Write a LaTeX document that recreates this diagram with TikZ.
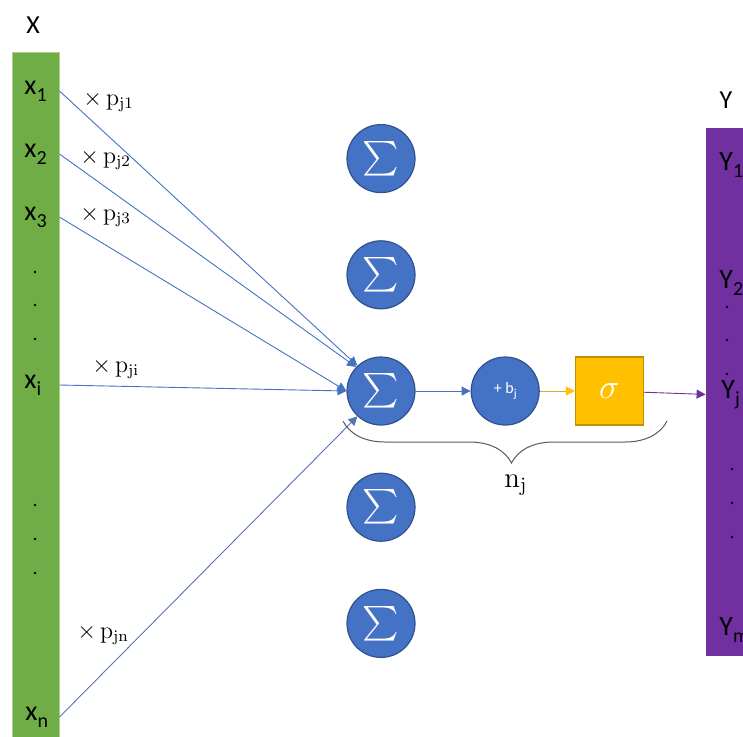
\documentclass[tikz,border=0pt]{standalone}
\usepackage{amsmath}
\usepackage[no-math]{fontspec}
\setmainfont{Carlito}
\definecolor{nngreen}{HTML}{70AD47}
\definecolor{nngreenedge}{HTML}{A9D18E}
\definecolor{nnblue}{HTML}{4472C4}
\definecolor{nnedge}{HTML}{2F528F}
\definecolor{nngold}{HTML}{FFC000}
\definecolor{nngoldedge}{HTML}{BF9000}
\definecolor{nnpurple}{HTML}{7030A0}
\usetikzlibrary{arrows.meta,positioning,decorations.pathreplacing}
\newcommand{\dn}[1]{\raisebox{-0.55ex}{\fontsize{10}{10}\selectfont #1}}

\begin{document}
\begin{tikzpicture}[x=0.5pt,y=-0.5pt,
  hd/.style={font=\fontsize{13}{15}\selectfont,inner sep=0pt},
  lbl/.style={font=\fontsize{14}{16}\selectfont,inner sep=0pt,anchor=base west},
  wt/.style={font=\fontsize{12}{14}\selectfont,inner sep=0pt,anchor=base west},
  dot/.style={circle,fill=black,inner sep=0pt,minimum size=1.4pt},
  sum/.style={circle,draw=nnedge,fill=nnblue,line width=0.6pt,minimum size=34pt,
    inner sep=0pt,text=white,font=\fontsize{17}{19}\selectfont},
  arr/.style={-{Triangle[length=4.5pt,width=4.5pt]},line width=0.45pt,nnblue}]
  \useasboundingbox (0,0) rectangle (743,736);
  % the two columns
  \node[draw=nngreenedge,fill=nngreen,line width=0.5pt,minimum width=23.5pt,
    minimum height=344pt,inner sep=0pt] (xbar) at (35.5,396) {};
  \node[fill=nnpurple,minimum width=23pt,minimum height=264pt,inner sep=0pt]
    (ybar) at (729,392) {};
  \node[hd,anchor=base] (xhd) at (33,33) {X};
  \node[hd,anchor=base] (yhd) at (726,108) {Y};
  \node[lbl] (x1) at (24,94) {x\dn{1}};
  \node[lbl] (x2) at (24,157) {x\dn{2}};
  \node[lbl] (x3) at (24,220) {x\dn{3}};
  \node[lbl] (xi) at (24,388) {x\dn{i}};
  \node[lbl] (xn) at (25,720) {x\dn{n}};
  \foreach \y [count=\k] in {272,305,339,505,539,573}
    \node[dot] (xd\k) at (35,\y) {};
  \node[lbl] (y1) at (719,170) {Y\dn{1}};
  \node[lbl] (y2) at (719,288) {Y\dn{2}};
  \node[lbl] (yj) at (721,398) {Y\dn{j}};
  \node[lbl] (ym) at (719,635) {Y\dn{m}};
  \foreach \y [count=\k] in {307,340,374}
    \node[dot] (yd\k) at (727,\y) {};
  \foreach \y [count=\k] in {469,503,537}
    \node[dot] (ye\k) at (732,\y) {};
  % neuron j and the others
  \node[sum] (sum3) at (381,391) {$\sum$};
  \node[sum,above=23.5pt of sum3] (sum2) {$\sum$};
  \node[sum,above=23.5pt of sum2] (sum1) {$\sum$};
  \node[sum,below=23.5pt of sum3] (sum4) {$\sum$};
  \node[sum,below=23.5pt of sum4] (sum5) {$\sum$};
  \node[sum,right=27.5pt of sum3,font=\fontsize{8}{9}\selectfont] (bias) {+ b\dn{\fontsize{6}{6}\selectfont j}};
  \node[draw=nngoldedge,fill=nngold,line width=0.6pt,minimum size=34pt,inner sep=0pt,
    text=white,font=\fontsize{18}{20}\selectfont,right=17.5pt of bias] (sig) {$\sigma$};
  % weights
  \node[wt] (w1) at (83,105) {$\times\,\mathrm{p}_{\mathrm{j1}}$};
  \node[wt] (w2) at (80,163) {$\times\,\mathrm{p}_{\mathrm{j2}}$};
  \node[wt] (w3) at (80,220) {$\times\,\mathrm{p}_{\mathrm{j3}}$};
  \node[wt] (wi) at (92,372) {$\times\,\mathrm{p}_{\mathrm{ji}}$};
  \node[wt] (wn) at (77,638) {$\times\,\mathrm{p}_{\mathrm{jn}}$};
  \draw[arr] (x1 -| xbar.east) -- (sum3.133);
  \draw[arr] (x2 -| xbar.east) -- (sum3.136);
  \draw[arr] (x3 -| xbar.east) -- (sum3.west);
  \draw[arr] (xi -| xbar.east) -- (sum3.west);
  \draw[arr,nnblue!70!gray] (xn -| xbar.east) -- (sum3.227);
  \draw[arr] (sum3) -- (bias);
  \draw[nngold!75!nnblue,line width=0.5pt,-{Triangle[length=4.5pt,width=4.5pt,color=nngold]}] (bias) -- (sig);
  \draw[arr,nnpurple] (sig) -- (yj -| ybar.west);
  % brace under the neuron
  \coordinate (bl) at (343,421);
  \coordinate (br) at (667,421);
  \draw[decorate,decoration={brace,amplitude=21pt,aspect=0.48},black!65,line width=0.5pt] (br) -- (bl);
  \node[font=\fontsize{14}{16}\selectfont,inner sep=0pt,anchor=base west] (nj) at (504,487) {$\mathrm{n}_{\mathrm{j}}$};
\end{tikzpicture}
\end{document}
